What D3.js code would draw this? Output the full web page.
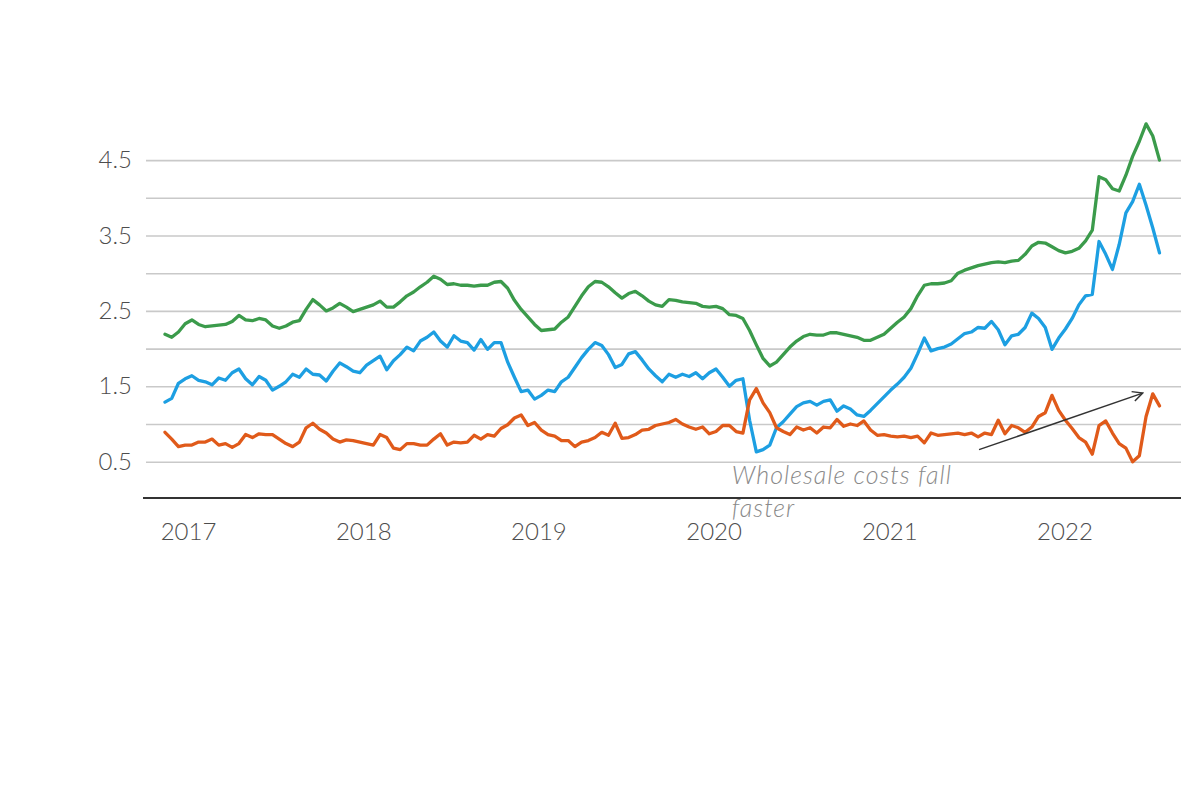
<!DOCTYPE html>
<html>
<head>
<meta charset="utf-8">
<script src="https://cdn.jsdelivr.net/npm/d3@7"></script>
<style>
  html, body { margin: 0; padding: 0; background: #ffffff; }
  svg { display: block; }
  text { font-family: Lato, "Open Sans", "DejaVu Sans", sans-serif; }
</style>
</head>
<body>
<svg id="chart" width="1200" height="800"></svg>
<script>
// ---- Data (biweekly readings) ----
const dates = [
  "2016-11-14","2016-11-28","2016-12-12","2016-12-26",
  "2017-01-09","2017-01-23","2017-02-06","2017-02-20","2017-03-06","2017-03-20","2017-04-03","2017-04-17","2017-05-01","2017-05-15","2017-05-29","2017-06-12","2017-06-26","2017-07-10","2017-07-24","2017-08-07","2017-08-21","2017-09-04","2017-09-18","2017-10-02","2017-10-16","2017-10-30","2017-11-13","2017-11-27","2017-12-11","2017-12-25",
  "2018-01-08","2018-01-22","2018-02-05","2018-02-19","2018-03-05","2018-03-19","2018-04-02","2018-04-16","2018-04-30","2018-05-14","2018-05-28","2018-06-11","2018-06-25","2018-07-09","2018-07-23","2018-08-06","2018-08-20","2018-09-03","2018-09-17","2018-10-01","2018-10-15","2018-10-29","2018-11-12","2018-11-26","2018-12-10","2018-12-24",
  "2019-01-07","2019-01-21","2019-02-04","2019-02-18","2019-03-04","2019-03-18","2019-04-01","2019-04-15","2019-04-29","2019-05-13","2019-05-27","2019-06-10","2019-06-24","2019-07-08","2019-07-22","2019-08-05","2019-08-19","2019-09-02","2019-09-16","2019-09-30","2019-10-14","2019-10-28","2019-11-11","2019-11-25","2019-12-09","2019-12-23",
  "2020-01-06","2020-01-20","2020-02-03","2020-02-17","2020-03-02","2020-03-16","2020-03-30","2020-04-13","2020-04-27","2020-05-11","2020-05-25","2020-06-08","2020-06-22","2020-07-06","2020-07-20","2020-08-03","2020-08-17","2020-08-31","2020-09-14","2020-09-28","2020-10-12","2020-10-26","2020-11-09","2020-11-23","2020-12-07","2020-12-21",
  "2021-01-04","2021-01-18","2021-02-01","2021-02-15","2021-03-01","2021-03-15","2021-03-29","2021-04-12","2021-04-26","2021-05-10","2021-05-24","2021-06-07","2021-06-21","2021-07-05","2021-07-19","2021-08-02","2021-08-16","2021-08-30","2021-09-13","2021-09-27","2021-10-11","2021-10-25","2021-11-08","2021-11-22","2021-12-06","2021-12-20",
  "2022-01-03","2022-01-17","2022-01-31","2022-02-14","2022-02-28","2022-03-14","2022-03-28","2022-04-11","2022-04-25","2022-05-09","2022-05-23","2022-06-06","2022-06-20","2022-07-04","2022-07-18"
];

// green series
const retailPrice = [
  2.19, 2.15, 2.22, 2.33, 2.38, 2.32, 2.29, 2.30, 2.31, 2.32,
  2.36, 2.44, 2.38, 2.37, 2.40, 2.38, 2.30, 2.27, 2.30, 2.35,
  2.37, 2.52, 2.65, 2.58, 2.50, 2.54, 2.60, 2.55, 2.49, 2.52,
  2.55, 2.58, 2.63, 2.55, 2.55, 2.62, 2.70, 2.75, 2.82, 2.88,
  2.96, 2.92, 2.85, 2.86, 2.84, 2.84, 2.83, 2.84, 2.84, 2.88,
  2.89, 2.80, 2.64, 2.52, 2.42, 2.32, 2.24, 2.25, 2.26, 2.35,
  2.42, 2.56, 2.70, 2.82, 2.89, 2.88, 2.82, 2.74, 2.67, 2.73,
  2.76, 2.70, 2.63, 2.58, 2.56, 2.65, 2.64, 2.62, 2.61, 2.60,
  2.56, 2.55, 2.56, 2.53, 2.45, 2.44, 2.40, 2.24, 2.05, 1.87,
  1.77, 1.82, 1.92, 2.02, 2.10, 2.16, 2.19, 2.18, 2.18, 2.21,
  2.21, 2.19, 2.17, 2.15, 2.11, 2.11, 2.15, 2.19, 2.27, 2.35,
  2.42, 2.53, 2.70, 2.84, 2.86, 2.86, 2.87, 2.90, 3.00, 3.04,
  3.07, 3.10, 3.12, 3.14, 3.15, 3.14, 3.16, 3.17, 3.25, 3.36,
  3.41, 3.40, 3.35, 3.30, 3.27, 3.29, 3.33, 3.43, 3.57, 4.28,
  4.24, 4.12, 4.09, 4.30, 4.55, 4.75, 4.98, 4.82, 4.50
];

// blue series
const wholesaleCost = [
  1.29, 1.34, 1.54, 1.60, 1.64, 1.58, 1.56, 1.52, 1.61, 1.58,
  1.68, 1.73, 1.60, 1.52, 1.63, 1.58, 1.45, 1.50, 1.56, 1.66,
  1.62, 1.73, 1.66, 1.65, 1.57, 1.70, 1.81, 1.76, 1.70, 1.68,
  1.78, 1.84, 1.90, 1.72, 1.84, 1.92, 2.02, 1.97, 2.10, 2.15,
  2.22, 2.10, 2.02, 2.17, 2.10, 2.08, 1.98, 2.12, 1.99, 2.08,
  2.08, 1.82, 1.62, 1.43, 1.45, 1.33, 1.38, 1.45, 1.43, 1.56,
  1.62, 1.75, 1.88, 1.99, 2.08, 2.04, 1.92, 1.75, 1.79, 1.93,
  1.96, 1.85, 1.73, 1.64, 1.56, 1.66, 1.62, 1.66, 1.63, 1.68,
  1.60, 1.68, 1.73, 1.62, 1.50, 1.58, 1.60, 1.05, 0.63, 0.66,
  0.72, 0.95, 1.03, 1.13, 1.23, 1.28, 1.30, 1.25, 1.30, 1.32,
  1.17, 1.24, 1.20, 1.12, 1.10, 1.18, 1.27, 1.36, 1.45, 1.53,
  1.62, 1.74, 1.93, 2.14, 1.97, 2.00, 2.02, 2.06, 2.13, 2.20,
  2.22, 2.28, 2.27, 2.36, 2.25, 2.05, 2.17, 2.19, 2.28, 2.47,
  2.40, 2.28, 1.99, 2.14, 2.26, 2.40, 2.58, 2.70, 2.72, 3.42,
  3.25, 3.05, 3.38, 3.80, 3.95, 4.18, 3.90, 3.60, 3.27
];

// orange series
const retailMargin = [
  0.89, 0.80, 0.70, 0.72, 0.72, 0.76, 0.76, 0.80, 0.72, 0.74,
  0.69, 0.74, 0.86, 0.82, 0.87, 0.86, 0.86, 0.80, 0.74, 0.70,
  0.76, 0.95, 1.01, 0.93, 0.88, 0.80, 0.76, 0.79, 0.78, 0.76,
  0.74, 0.72, 0.86, 0.82, 0.68, 0.66, 0.74, 0.74, 0.72, 0.72,
  0.80, 0.87, 0.72, 0.76, 0.75, 0.76, 0.85, 0.80, 0.86, 0.84,
  0.94, 0.99, 1.08, 1.12, 0.98, 1.02, 0.92, 0.86, 0.84, 0.78,
  0.78, 0.70, 0.76, 0.78, 0.82, 0.89, 0.85, 1.01, 0.81, 0.82,
  0.86, 0.92, 0.93, 0.98, 1.00, 1.02, 1.06, 1.00, 0.96, 0.93,
  0.96, 0.87, 0.90, 0.98, 0.98, 0.90, 0.88, 1.32, 1.47, 1.28,
  1.15, 0.95, 0.90, 0.86, 0.96, 0.92, 0.95, 0.88, 0.96, 0.95,
  1.06, 0.97, 1.00, 0.98, 1.04, 0.92, 0.85, 0.86, 0.84, 0.83,
  0.84, 0.82, 0.84, 0.75, 0.88, 0.85, 0.86, 0.87, 0.88, 0.86,
  0.88, 0.83, 0.88, 0.86, 1.05, 0.87, 0.98, 0.95, 0.89, 0.96,
  1.10, 1.15, 1.38, 1.18, 1.05, 0.94, 0.82, 0.76, 0.60, 0.98,
  1.04, 0.88, 0.74, 0.68, 0.50, 0.58, 1.10, 1.40, 1.24
];

const seriesNames = ["retailPrice", "wholesaleCost", "retailMargin"];
const seriesColors = ["#3b9b4b", "#1d9fe2", "#e05a1a"];

const yearTicks = ["2017-01-01","2018-01-01","2019-01-01","2020-01-01","2021-01-01","2022-01-01"];
const gridValues = [0.5, 1.0, 1.5, 2.0, 2.5, 3.0, 3.5, 4.0, 4.5];
const labelledValues = [0.5, 1.5, 2.5, 3.5, 4.5];

const annotationLines = ["Wholesale costs fall", "faster"];
const annotationAt = ["2020-02-08", 0.21];
const arrowFrom = ["2021-07-07", 0.66];
const arrowTo = ["2022-06-13", 1.41];

// ---- Drawing ----
const parse = d3.timeParse("%Y-%m-%d");
const svg = d3.select("#chart");

const x = d3.scaleTime()
  .domain([parse(dates[0]), parse(dates[dates.length - 1])])
  .range([165, 1159.5]);
const y = d3.scaleLinear().domain([0, 5]).range([499.4, 122.4]);

const gridLeft = 146, gridRight = 1181;

// y grid + labels
const yAxis = d3.axisLeft(y)
  .tickValues(gridValues)
  .tickSize(-(gridRight - gridLeft))
  .tickPadding(14)
  .tickFormat(d => labelledValues.includes(d) ? d3.format(".1f")(d) : "");
const gy = svg.append("g").attr("transform", `translate(${gridLeft},0)`).call(yAxis);
gy.select(".domain").remove();
gy.selectAll(".tick line").attr("stroke", "#c9c9c9").attr("stroke-width", 1.6);
gy.selectAll(".tick text")
  .attr("fill", "#4d4d4d")
  .style("font-size", "24px")
  .style("font-weight", 300)
  .style("font-family", "Lato, 'Open Sans', sans-serif");

// x axis labels
const xAxis = d3.axisBottom(x)
  .tickValues(yearTicks.map(parse))
  .tickSize(0)
  .tickPadding(24)
  .tickFormat(d3.timeFormat("%Y"));
const gx = svg.append("g").attr("transform", `translate(0,${y(0)})`).call(xAxis);
gx.select(".domain").remove();
gx.selectAll(".tick text")
  .attr("fill", "#4d4d4d")
  .style("font-size", "24px")
  .style("font-weight", 300)
  .style("font-family", "Lato, 'Open Sans', sans-serif");

// baseline
svg.append("line")
  .attr("x1", 143).attr("x2", gridRight)
  .attr("y1", y(0) - 1.5).attr("y2", y(0) - 1.5)
  .attr("stroke", "#333").attr("stroke-width", 2);

// lines
const seriesData = [retailPrice, wholesaleCost, retailMargin];
const line = d3.line()
  .x((d, i) => x(parse(dates[i])))
  .y(d => y(d))
  .curve(d3.curveLinear);

svg.append("g").selectAll("path")
  .data(seriesData)
  .join("path")
  .attr("class", (d, i) => seriesNames[i])
  .attr("d", line)
  .attr("fill", "none")
  .attr("stroke", (d, i) => seriesColors[i])
  .attr("stroke-width", 3.3)
  .attr("stroke-linejoin", "round")
  .attr("stroke-linecap", "round");

// annotation text
const ann = svg.append("text")
  .attr("x", x(parse(annotationAt[0])))
  .attr("y", y(annotationAt[1]))
  .attr("fill", "#8a8a8a")
  .style("font-size", "25px")
  .style("letter-spacing", "1px")
  .style("font-style", "italic")
  .style("font-weight", 300)
  .style("font-family", "Lato, 'Open Sans', sans-serif");
ann.selectAll("tspan")
  .data(annotationLines)
  .join("tspan")
  .attr("x", x(parse(annotationAt[0])))
  .attr("dy", (d, i) => i === 0 ? 0 : 33)
  .text(d => d);

// arrow
const defs = svg.append("defs");
defs.append("marker")
  .attr("id", "arrowhead")
  .attr("viewBox", "0 0 12 12")
  .attr("refX", 11).attr("refY", 6)
  .attr("markerWidth", 12).attr("markerHeight", 12)
  .attr("markerUnits", "userSpaceOnUse")
  .attr("orient", "auto")
  .append("path")
  .attr("d", "M1,1 L11,6 L1,11")
  .attr("fill", "none")
  .attr("stroke", "#333")
  .attr("stroke-width", 1.5);

svg.append("line")
  .attr("x1", x(parse(arrowFrom[0]))).attr("y1", y(arrowFrom[1]))
  .attr("x2", x(parse(arrowTo[0]))).attr("y2", y(arrowTo[1]))
  .attr("stroke", "#333")
  .attr("stroke-width", 1.5)
  .attr("marker-end", "url(#arrowhead)");
</script>
</body>
</html>
